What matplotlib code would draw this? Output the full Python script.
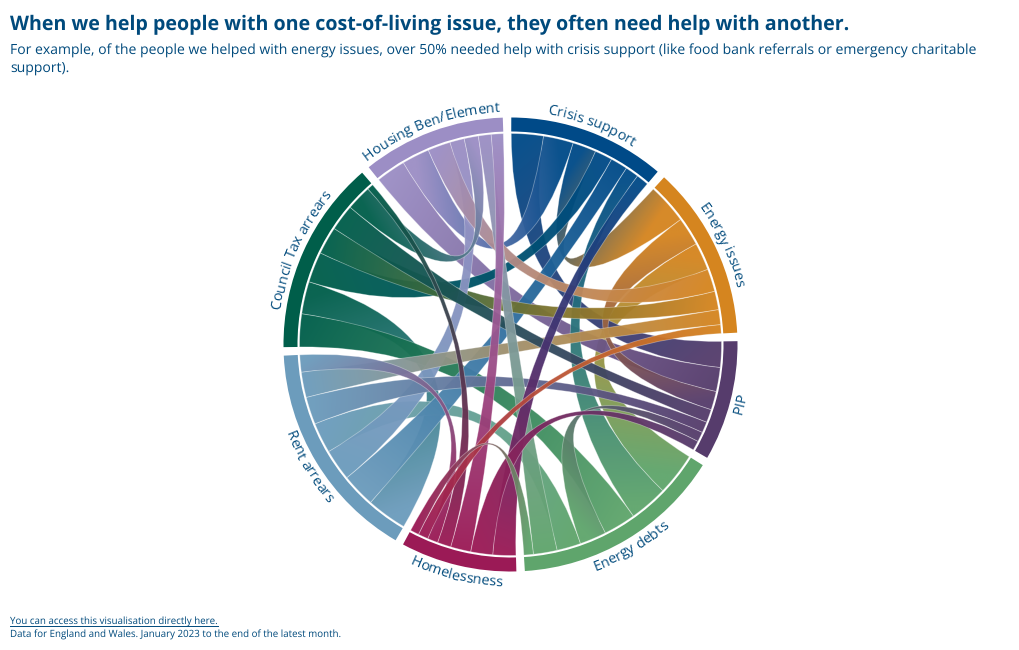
"""Chord diagram of overlapping cost-of-living issues, ribbons shaded source to target."""
import matplotlib
matplotlib.use("Agg")
import matplotlib.pyplot as plt
import numpy as np
from matplotlib.colors import to_rgb
from matplotlib.patches import PathPatch, Wedge
from matplotlib.path import Path
from matplotlib.text import Text

plt.rcParams["font.family"] = ["Open Sans", "DejaVu Sans"]
plt.rcParams["text.hinting"] = "no_hinting"

TITLE = "When we help people with one cost-of-living issue, they often need help with another."
SUBTITLE = ("For example, of the people we helped with energy issues, over 50% needed help with "
            "crisis support (like food bank referrals or emergency charitable\nsupport).")
LINK_NOTE = "You can access this visualisation directly here."
DATA_NOTE = "Data for England and Wales. January 2023 to the end of the latest month."

groups = ["Crisis support", "Energy issues", "PIP", "Energy debts",
          "Homelessness", "Rent arrears", "Council Tax arrears", "Housing Ben/Element"]
group_colors = ["#004a88", "#d5851f", "#563c6c", "#5fa56c",
                "#9b1a56", "#6c9cbc", "#005e4a", "#9c8ec5"]

# share of each row's people who also needed help with the column's issue
crisis_row = [0, 6.5, 8.8, 3.7, 3.4, 4.7, 4.8, 8.2]
energy_issues_row = [11.1, 0, 7.8, 7.6, 2.4, 4.1, 5.1, 6.2]
pip_row = [7.1, 5.1, 0, 2.7, 2.6, 3.0, 3.6, 6.6]
energy_debts_row = [10.5, 11.7, 7.3, 0, 2.6, 6.6, 8.9, 6.5]
homelessness_row = [6.3, 2.75, 6.0, 2.4, 0, 2.9, 3.7, 5.6]
rent_row = [9.3, 7.0, 7.5, 8.4, 4.7, 0, 11.1, 8.6]
council_tax_row = [8.4, 7.6, 7.2, 9.0, 1.7, 8.9, 0, 6.9]
housing_row = [7.6, 6.2, 8.1, 3.5, 3.3, 4.0, 3.9, 0]

TEXT_COLOR = "#004a7c"
CX, CY = 510.5, 344.5
R_OUTER, R_INNER, R_RIBBON = 227, 213, 211
PAD = 2.15
START = 0.2


def polar(theta, r):
    """Clockwise degrees from 12 o'clock to pixel coordinates."""
    t = np.radians(theta)
    return CX + r * np.sin(t), CY - r * np.cos(t)


class ArcText(Text):
    """One label laid out along a circle, letter by letter."""

    def __init__(self, theta, radius, flip, *args, **kwargs):
        self.theta, self.radius, self.flip = theta, radius, flip
        super().__init__(*args, **kwargs)

    def draw(self, renderer):
        label = self.get_text()
        fp = self.get_fontproperties()
        advance = [renderer.get_text_width_height_descent(label[:i], fp, False)[0] if i else 0
                   for i in range(len(label) + 1)]
        total = advance[-1]
        for i, ch in enumerate(label):
            offset = (advance[i] + advance[i + 1]) / 2 - total / 2
            sweep = np.degrees(offset / self.radius)
            theta = self.theta - sweep if self.flip else self.theta + sweep
            x, y = polar(theta, self.radius)
            rot = 180 - theta if self.flip else -theta
            letter = Text(x, y, ch, color=self.get_color(), fontproperties=fp,
                          rotation=rot, rotation_mode="anchor", ha="center", va="baseline",
                          transform=self.get_transform())
            letter.set_figure(self.get_figure())
            letter.draw(renderer)


def ribbon_path(s0, s1, t0, t1):
    verts, codes = [], []
    for k, th in enumerate(np.linspace(s0, s1, 16)):
        verts.append(polar(th, R_RIBBON))
        codes.append(Path.MOVETO if k == 0 else Path.LINETO)
    verts += [(CX, CY), polar(t0, R_RIBBON)]
    codes += [Path.CURVE3, Path.CURVE3]
    for th in np.linspace(t0, t1, 16)[1:]:
        verts.append(polar(th, R_RIBBON))
        codes.append(Path.LINETO)
    verts += [(CX, CY), polar(s0, R_RIBBON), polar(s0, R_RIBBON)]
    codes += [Path.CURVE3, Path.CURVE3, Path.CLOSEPOLY]
    return Path(verts, codes)


def main():
    matrix = np.array([crisis_row, energy_issues_row, pip_row, energy_debts_row,
                       homelessness_row, rent_row, council_tax_row, housing_row])
    n = len(groups)
    scale = (360 - n * PAD) / matrix.sum()

    fig = plt.figure(figsize=(10.2, 6.5), dpi=100)
    ax = fig.add_axes([0, 0, 1, 1])
    ax.set_axis_off()

    # d3-style layout: subgroups run clockwise, biggest first
    spans = {}
    group_span = []
    angle = START
    for i in range(n):
        g0 = angle
        for j in np.argsort(-matrix[i]):
            if matrix[i, j] == 0:
                continue
            spans[i, j] = (angle, angle + matrix[i, j] * scale)
            angle += matrix[i, j] * scale
        group_span.append((g0, angle))
        angle += PAD

    # big ribbons underneath, small ones on top
    pairs = [(i, j) for i in range(n) for j in range(i + 1, n)]
    pairs.sort(key=lambda p: -(matrix[p] + matrix[p[::-1]]))

    z = 2
    for i, j in pairs:
        s0, s1 = spans[i, j]
        t0, t1 = spans[j, i]
        path = ribbon_path(s0, s1, t0, t1)
        x0, y0 = polar((s0 + s1) / 2, R_RIBBON)
        x1, y1 = polar((t0 + t1) / 2, R_RIBBON)
        lo, hi = path.get_extents().min, path.get_extents().max
        xs = np.arange(np.floor(lo[0]), np.ceil(hi[0]) + 1)
        ys = np.arange(np.floor(lo[1]), np.ceil(hi[1]) + 1)
        gx, gy = np.meshgrid(xs, ys)
        d = np.array([x1 - x0, y1 - y0])
        frac = np.clip(((gx - x0) * d[0] + (gy - y0) * d[1]) / (d @ d), 0, 1)[..., None]
        rgb = (1 - frac) * np.array(to_rgb(group_colors[i])) + frac * np.array(to_rgb(group_colors[j]))
        im = ax.imshow(rgb, extent=(xs[0], xs[-1], ys[-1], ys[0]), aspect="auto",
                       interpolation="bilinear", zorder=z, alpha=0.96)
        edge = PathPatch(path, facecolor="none", edgecolor="white", alpha=0.35, lw=0.6, zorder=z + 0.5)
        ax.add_patch(edge)
        im.set_clip_path(edge)
        z += 1

    for i, (g0, g1) in enumerate(group_span):
        # y axis runs downward, so matplotlib's angles here are measured from 3 o'clock clockwise
        ax.add_patch(Wedge((CX, CY), R_OUTER, g0 - 90, g1 - 90, width=R_OUTER - R_INNER,
                           facecolor=group_colors[i], edgecolor="none", zorder=z))
        mid = (g0 + g1) / 2
        flip = 90 < mid < 270
        radius = 241.5 if flip else 233
        x, y = polar(mid, radius)
        ax.add_artist(ArcText(mid, radius, flip, x, y, groups[i], color=TEXT_COLOR, fontsize=10.3,
                              transform=ax.transData, rotation=(180 - mid) if flip else -mid,
                              rotation_mode="anchor", ha="center", va="baseline"))

    ax.set_xlim(0, 1020)
    ax.set_ylim(650, 0)

    ax.text(10, 30, TITLE, color=TEXT_COLOR, fontsize=14.1, fontweight="bold")
    ax.text(10, 54.5, SUBTITLE.split("\n")[0], color=TEXT_COLOR, fontsize=10.09)
    ax.text(10, 71.5, SUBTITLE.split("\n")[1], color=TEXT_COLOR, fontsize=10.09)
    link = ax.text(10, 624.5, LINK_NOTE, color=TEXT_COLOR, fontsize=7.0)
    ax.text(10, 637.5, DATA_NOTE, color=TEXT_COLOR, fontsize=7.0)

    fig.canvas.draw()
    box = link.get_window_extent()
    ax.plot([box.x0, box.x1], [625.5, 625.5], color=TEXT_COLOR, lw=0.7)

    fig.savefig("out.png", dpi=100)


if __name__ == "__main__":
    main()
